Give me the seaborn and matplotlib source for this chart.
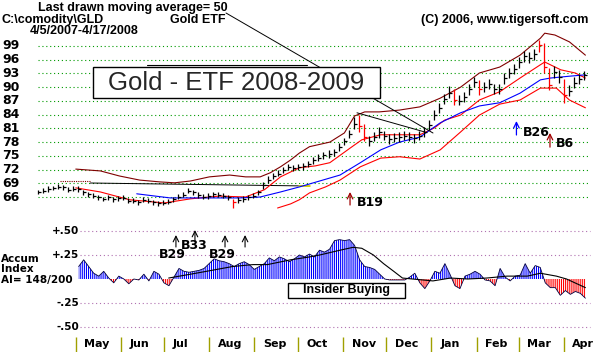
import numpy as np
import pandas as pd
import matplotlib
matplotlib.use("Agg")
import matplotlib.pyplot as plt
import seaborn as sns
from matplotlib.patches import Rectangle
from matplotlib.lines import Line2D
from matplotlib.transforms import blended_transform_factory

sns.set_style("white")
plt.rcParams["font.family"] = ["DejaVu Sans"]
plt.rcParams["hatch.linewidth"] = 0.8

# ---------------- data ----------------
START = "2007-04-05"
price_close = [67.1, 67.4, 67.8, 68.0, 68.2, 68.1, 67.6, 67.8, 67.7, 67.0,
               66.6, 66.3, 65.9, 65.6, 65.9, 65.6, 65.7, 65.8, 65.2, 65.1,
               64.9, 65.4, 65.2, 64.9, 64.6, 64.7, 65.0, 65.6, 66.1, 66.5,
               67.4, 67.1, 66.4, 66.0, 66.2, 66.6, 66.5, 66.3, 65.9, 64.8,
               65.3, 65.6, 65.9, 66.3, 67.0, 68.6, 69.8, 70.6, 71.1, 71.9,
               72.5, 72.4, 72.6, 72.7, 73.2, 74.0, 74.6, 75.1, 75.4, 75.8,
               77.0, 78.2, 79.8, 82.0, 81.5, 79.2, 78.2, 79.2, 80.1, 79.4,
               78.6, 79.0, 79.1, 79.4, 79.2, 78.8, 79.4, 80.2, 81.8, 83.9,
               85.4, 87.4, 88.8, 87.3, 87.0, 87.8, 89.5, 91.2, 89.5, 90.0,
               90.7, 89.7, 89.6, 92.0, 93.2, 94.0, 95.5, 96.8, 96.4, 97.2,
               99.2, 94.5, 90.5, 93.4, 92.2, 88.2, 89.2, 91.0, 91.7, 92.6]
price_low = [66.6, 66.9, 67.2, 67.5, 67.7, 67.5, 67.0, 67.3, 67.1, 66.4,
             66.0, 65.8, 65.4, 65.1, 65.4, 65.0, 65.2, 65.3, 64.6, 64.6,
             64.3, 64.9, 64.7, 64.3, 64.1, 64.2, 64.5, 65.0, 65.5, 65.9,
             66.8, 66.5, 65.8, 65.5, 65.6, 66.0, 66.0, 65.7, 65.3, 63.6,
             64.7, 65.0, 65.4, 65.8, 66.4, 67.8, 69.0, 70.0, 70.5, 71.2,
             71.8, 71.7, 71.9, 72.0, 72.5, 73.3, 73.9, 74.3, 74.6, 75.0,
             76.1, 77.3, 78.8, 80.9, 80.2, 78.2, 77.2, 78.2, 79.0, 78.4,
             77.6, 78.0, 78.1, 78.5, 78.2, 77.8, 78.5, 79.2, 80.7, 82.8,
             84.3, 86.3, 87.6, 86.0, 86.0, 86.8, 88.4, 90.0, 88.4, 89.0,
             89.6, 88.6, 88.5, 90.8, 92.1, 92.9, 94.3, 95.6, 95.3, 96.0,
             97.6, 93.0, 89.3, 92.0, 91.0, 86.6, 88.0, 89.8, 90.6, 91.5]
price_high = [67.6, 67.9, 68.3, 68.5, 68.8, 68.6, 68.2, 68.4, 68.3, 67.6,
              67.1, 66.9, 66.4, 66.1, 66.5, 66.1, 66.3, 66.4, 65.8, 65.7,
              65.4, 66.0, 65.8, 65.4, 65.2, 65.3, 65.6, 66.1, 66.7, 67.1,
              68.0, 67.6, 67.0, 66.6, 66.8, 67.1, 67.1, 66.9, 66.5, 65.6,
              65.9, 66.2, 66.5, 66.9, 67.6, 69.3, 70.5, 71.3, 71.8, 72.6,
              73.2, 73.1, 73.3, 73.4, 73.9, 74.7, 75.3, 75.8, 76.2, 76.6,
              77.8, 79.0, 80.7, 83.4, 84.0, 82.0, 79.3, 80.3, 81.3, 80.5,
              79.7, 80.0, 80.1, 80.4, 80.2, 79.8, 80.4, 81.2, 82.8, 85.0,
              86.5, 88.5, 90.3, 89.5, 88.4, 89.0, 90.6, 92.3, 91.6, 91.1,
              91.8, 90.8, 90.7, 93.1, 94.3, 95.1, 96.6, 97.9, 97.6, 98.4,
              100.3, 99.6, 94.2, 94.6, 93.8, 91.8, 90.5, 92.2, 92.8, 93.6]
red_bars = [39, 64, 65, 83, 88, 100, 101, 102, 105]

upper_band_days = [26, 43, 56, 70, 84, 94, 105, 118, 132, 143, 153, 160, 167, 174, 180, 187,
                   201, 211, 218, 225, 235, 249, 263, 277, 291, 304, 318, 332, 346, 349, 356, 366, 377]
upper_band = [72.1, 71.7, 70.6, 69.7, 69.3, 69.1, 69.5, 70.4, 70.8, 70.4, 70.4, 71.3, 72.6, 74.1,
              75.6, 77.0, 78.0, 80.0, 83.7, 84.6, 84.6, 85.0, 85.7, 87.6, 90.0, 93.1, 94.4, 97.0,
              100.7, 101.8, 101.4, 99.9, 97.0]
mid_days = [26, 43, 63, 87, 105, 125, 143, 156, 167, 180, 191, 201, 215, 223, 236, 249, 263,
            273, 280, 291, 304, 318, 332, 346, 349, 360, 370, 377]
mid_line = [68.0, 67.1, 65.4, 64.7, 65.6, 66.2, 66.0, 67.6, 70.4, 72.4, 72.8, 73.5, 76.7, 78.5,
            79.6, 79.6, 79.6, 81.1, 82.8, 83.9, 87.2, 89.0, 92.0, 94.9, 95.5, 93.8, 93.1, 92.0]
ma50_days = [68, 91, 112, 139, 153, 167, 180, 194, 208, 222, 236, 249, 263, 277, 291, 304, 318,
             332, 346, 353, 366, 377]
ma50 = [66.7, 65.8, 65.8, 65.8, 66.0, 67.1, 68.2, 69.5, 70.8, 73.5, 76.3, 78.0, 79.1, 82.2, 84.4,
        85.9, 86.6, 88.7, 91.6, 92.0, 92.4, 92.7]
lower_band_days = [165, 174, 180, 187, 198, 208, 222, 236, 249, 263, 277, 291, 304, 318, 332,
                   346, 357, 366, 377]
lower_band = [63.6, 64.5, 65.4, 66.9, 68.2, 69.7, 72.6, 74.5, 74.8, 74.3, 76.3, 80.2, 83.9, 86.3,
              87.2, 89.8, 89.8, 87.2, 85.5]

flat_line_days = [36, 187]
flat_line = [69.06, 68.4]
trend_days = [219.7, 266.5]
trend_prices = [84.4, 80.2]

accum_index = [0.13, 0.20, 0.13, 0.06, 0.03, 0.08, 0.01, -0.04, 0.03, 0.00,
               -0.05, 0.00, -0.01, 0.05, -0.02, 0.08, 0.05, -0.04, -0.07, 0.02,
               0.11, 0.08, 0.07, 0.08, 0.09, 0.11, 0.16, 0.21, 0.19, 0.18,
               0.16, 0.13, 0.16, 0.18, 0.15, 0.10, 0.13, 0.16, 0.22, 0.19,
               0.23, 0.21, 0.18, 0.21, 0.25, 0.23, 0.26, 0.23, 0.30, 0.28,
               0.31, 0.40, 0.41, 0.40, 0.41, 0.35, 0.20, 0.13, 0.12, 0.10,
               0.05, 0.00, -0.01, -0.01, -0.01, -0.01, 0.02, 0.06, -0.04, -0.10,
               -0.02, 0.08, 0.06, 0.16, 0.05, -0.07, -0.10, 0.03, 0.05, 0.08,
               0.05, -0.01, -0.02, -0.07, 0.11, 0.02, -0.02, 0.03, 0.04, 0.16,
               0.06, 0.14, 0.12, -0.04, -0.09, -0.09, -0.17, -0.12, -0.16, -0.13,
               -0.15, -0.20]
ai_ma_days = [90, 105, 116, 134, 148, 158, 174, 187, 194, 208, 217, 223, 231, 238, 245, 251,
              258, 272, 284, 296, 309, 323, 337, 346, 357, 364, 377]
ai_ma = [0.01, 0.05, 0.08, 0.13, 0.15, 0.15, 0.20, 0.23, 0.25, 0.30, 0.33, 0.32, 0.25, 0.16,
         0.08, 0.01, 0.00, -0.02, 0.01, 0.00, 0.01, 0.03, 0.03, 0.06, 0.03, 0.00, -0.09]

price_ticks = [99, 96, 93, 90, 87, 84, 81, 78, 75, 72, 69, 66]
ai_ticks = [0.5, 0.25, -0.25, -0.5]
ai_tick_labels = ["+.50", "+.25", "-.25", "-.50"]
months = ["May", "Jun", "Jul", "Aug", "Sep", "Oct", "Nov", "Dec", "Jan", "Feb", "Mar", "Apr"]

price_signals = [("B19", 214.9, 64.25, 67.1, "#a00000", 219.7, 64.7),
                 ("B26", 329.5, 79.55, 82.6, "#0000ff", 334.0, 80.2),
                 ("B6", 352.6, 76.9, 80.0, "#a00000", 356.7, 77.6)]
ai_signals = [("B29", 95.0, 0.333, 0.458, 92.3, 0.26),
              ("B33", 108.1, 0.396, 0.51, 107.4, 0.344),
              ("B29", 128.8, 0.333, 0.458, 126.7, 0.26),
              ("", 142.6, 0.333, 0.458, 142.6, 0.3)]

# ---------------- layout helpers ----------------
W, H = 613, 352
PX0, PXD = 38.0, 1.452          # pixel of day 0, pixels per day


def day_at(px):
    return (px - PX0) / PXD


def price_at(py):
    return 99 - (py - 46) / 4.576


def ai_at(py):
    return (279 - py) / 96.0


fig = plt.figure(figsize=(W / 100, H / 100), dpi=100)
fig.patch.set_facecolor("white")


def add_ax(l, t, r, b):
    a = fig.add_axes([l / W, 1 - b / H, (r - l) / W, (b - t) / H])
    a.axis("off")
    return a


def fx(px):
    return px / W


def fy(py):
    return 1 - py / H


start = pd.Timestamp(START)
pdays = (pd.date_range(START, "2008-04-15", periods=len(price_close)) - start) / pd.Timedelta("1D")
pdays = np.asarray(pdays, dtype=float)
adays = (pd.date_range("2007-05-03", "2008-04-16", periods=len(accum_index)) - start) / pd.Timedelta("1D")
adays = np.asarray(adays, dtype=float)
mdays = np.asarray((pd.date_range("2007-05-01", "2008-04-01", freq="MS") - start) / pd.Timedelta("1D"), dtype=float)

bold = dict(fontweight="bold", color="black")
dots = (0, (1, 2.5))

# ---------------- price panel ----------------
ax_p = add_ax(36, 30, 590, 212)
ax_p.set_xlim(day_at(36), day_at(590))
ax_p.set_ylim(price_at(212), price_at(30))
ax_p.hlines(price_ticks, day_at(38), day_at(588), colors="#009a00",
            linestyles=dots, lw=0.8, zorder=0)
ytr = blended_transform_factory(fig.transFigure, ax_p.transData)
for v in price_ticks:
    ax_p.text(fx(2), v, str(v), transform=ytr, ha="left", va="center", fontsize=9, **bold)

ax_p.plot([day_at(60), day_at(90)], [69.5, 69.5], color="#800000", ls=(0, (1, 1)), lw=0.8)
ax_p.plot(flat_line_days, flat_line, color="black", lw=0.7)
ax_p.plot([180, 187], [68.4, 68.4], color="#e0e000", lw=1.2)

sns.lineplot(x=upper_band_days, y=upper_band, ax=ax_p, color="#800000", lw=0.8, estimator=None, sort=False)
sns.lineplot(x=mid_days, y=mid_line, ax=ax_p, color="#ff0000", lw=0.8, estimator=None, sort=False)
sns.lineplot(x=ma50_days, y=ma50, ax=ax_p, color="#0000ff", lw=0.8, estimator=None, sort=False)
sns.lineplot(x=lower_band_days, y=lower_band, ax=ax_p, color="#ff0000", lw=0.8, estimator=None, sort=False)
ax_p.plot(trend_days, trend_prices, color="black", lw=0.7)

cols = np.array(["#ff0000" if i in red_bars else "black" for i in range(len(price_close))])
ax_p.vlines(pdays, price_low, price_high, colors=cols, lw=0.9, zorder=3)
for c in ["black", "#ff0000"]:
    m = cols == c
    ax_p.plot(pdays[m], np.array(price_close)[m], ls="none", marker=1, ms=2.5, mew=0.9,
              color=c, zorder=3)

for lab, d, base, tip, col, tx, ty in price_signals:
    ax_p.annotate("", xy=(d, tip), xytext=(d, base),
                  arrowprops=dict(arrowstyle="->", color=col, lw=0.9, shrinkA=0, shrinkB=0))
    ax_p.text(tx, ty, lab, ha="left", va="center", fontsize=9, **bold)

# ---------------- accumulation index panel ----------------
ax_a = add_ax(78, 222, 592, 334)
ax_a.set_xlim(day_at(78), day_at(592))
ax_a.set_ylim(ai_at(334), ai_at(222))
ax_a.hlines(ai_ticks, day_at(80), day_at(590), colors="#b070b0",
            linestyles=dots, lw=0.8, zorder=0)
atr = blended_transform_factory(fig.transFigure, ax_a.transData)
for v, lab in zip(ai_ticks, ai_tick_labels):
    ax_a.text(fx(79), v, lab, transform=atr, ha="right", va="center", fontsize=7.5, **bold)

ai = np.array(accum_index)
ax_a.fill_between(adays, 0, ai, where=ai >= 0, interpolate=True, facecolor="white",
                  edgecolor="#0000ff", hatch="|" * 8, lw=0)
ax_a.fill_between(adays, 0, ai, where=ai <= 0, interpolate=True, facecolor="white",
                  edgecolor="#ff0000", hatch="|" * 8, lw=0)
ax_a.plot(adays, ai, color="#000040", lw=0.6)
sns.lineplot(x=ai_ma_days, y=ai_ma, ax=ax_a, color="black", lw=0.8, estimator=None, sort=False)

for lab, d, base, tip, tx, ty in ai_signals:
    ax_a.annotate("", xy=(d, tip), xytext=(d, base),
                  arrowprops=dict(arrowstyle="->", color="black", lw=0.8, shrinkA=0, shrinkB=0))
    if lab:
        ax_a.text(tx, ty, lab, ha="center", va="center", fontsize=9, **bold)

# ---------------- month strip ----------------
ax_m = add_ax(0, 335, 613, 352)
ax_m.set_xlim(day_at(0), day_at(613))
ax_m.set_ylim(0, 1)
ax_m.vlines(mdays, 0, 0.9, colors="#a0a000", lw=1.0)
for d, lab in zip(mdays, months):
    ax_m.text(d + 6, 0.45, lab, ha="left", va="center", fontsize=8, **bold)

# ---------------- texts & annotations ----------------
fig.add_artist(Line2D([fx(226), fx(433)], [fy(13), fy(133)], color="black", lw=0.7, zorder=5))
fig.add_artist(Line2D([fx(147), fx(307)], [fy(65), fy(65)], color="black", lw=0.8, zorder=5))
fig.add_artist(Rectangle((fx(93), fy(98)), fx(380) - fx(93), fy(67) - fy(98),
                         transform=fig.transFigure, facecolor="white", edgecolor="black",
                         lw=1.0, zorder=6))
fig.text(fx(236.5), fy(83), "Gold - ETF 2008-2009", ha="center", va="center", fontsize=18.5,
         family=["Liberation Sans"], zorder=7)

fig.add_artist(Rectangle((fx(288), fy(298)), fx(405) - fx(288), fy(283) - fy(298),
                         transform=fig.transFigure, facecolor="white", edgecolor="black",
                         lw=1.0, zorder=6))
fig.text(fx(346.5), fy(290.5), "Insider Buying", ha="center", va="center", fontsize=9,
         family=["Liberation Sans"], zorder=7, **bold)

top = dict(fontsize=9, family=["Liberation Sans"], va="center", **bold)
fig.text(fx(38), fy(8), "Last drawn moving average= 50", ha="left", **top)
fig.text(fx(2), fy(20), "C:\\comodity\\GLD", ha="left", **top)
fig.text(fx(170), fy(20), "Gold ETF", ha="left", **top)
fig.text(fx(30), fy(31), "4/5/2007-4/17/2008", ha="left", **top)
fig.text(fx(421), fy(20), "(C) 2006, www.tigersoft.com", ha="left", **top)

fig.text(fx(1), fy(259), "Accum", ha="left", va="center", fontsize=7.5, **bold)
fig.text(fx(1), fy(269), "Index", ha="left", va="center", fontsize=7.5, **bold)
fig.text(fx(1), fy(279.5), "AI= 148/200", ha="left", va="center", fontsize=7.5, **bold)

fig.savefig("out.png", dpi=100, facecolor="white")
